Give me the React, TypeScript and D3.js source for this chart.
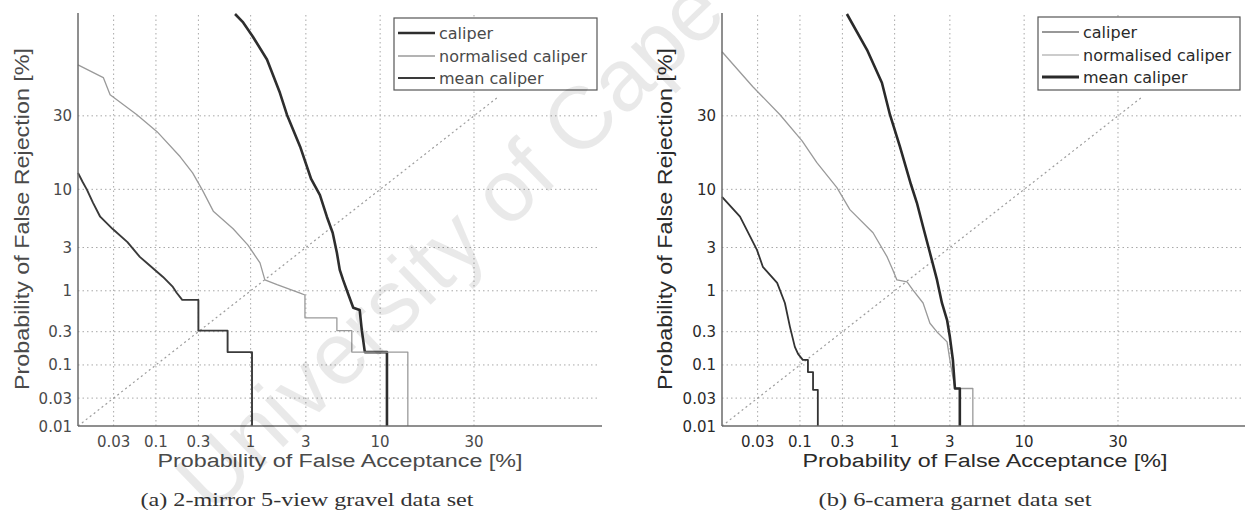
import React, { useEffect, useRef } from "react";
import * as d3 from "d3";

// ---------- data (percent values) ----------
const yTicks = [0.01, 0.03, 0.1, 0.3, 1, 3, 10, 30];
const xTicks = [0.03, 0.1, 0.3, 1, 3, 10, 30];
const gridTicks = [0.03, 0.1, 0.3, 1, 3, 10, 30];
const seriesNames = ["caliper", "normalised caliper", "mean caliper"];

// panel (a)
const caliperA_far = [0.71, 0.85, 1.05, 1.41, 1.83, 2.1, 2.7, 3.3, 3.86, 4.35, 4.8, 5.15, 5.4, 5.7, 6.15, 6.7, 7.4, 7.65, 8.0, 11.0, 11.0];
const caliperA_frr = [70, 66.9, 61.4, 52.2, 38.7, 30.4, 20, 12.0, 9.0, 5.9, 4.2, 2.65, 1.74, 1.34, 0.94, 0.62, 0.58, 0.31, 0.155, 0.155, 0.01];
const normA_far = [0.01, 0.022, 0.027, 0.059, 0.103, 0.19, 0.26, 0.33, 0.43, 0.68, 0.94, 1.22, 1.35, 1.73, 2.7, 2.95, 2.95, 5.15, 5.15, 6.55, 6.55, 14.5, 14.5];
const normA_frr = [50, 44.8, 37.9, 30.4, 24.6, 17.2, 13.3, 9.9, 6.6, 4.57, 3.19, 2.07, 1.34, 1.18, 0.94, 0.89, 0.46, 0.46, 0.31, 0.31, 0.155, 0.155, 0.01];
const meanA_far = [0.01, 0.0115, 0.0133, 0.016, 0.02, 0.029, 0.045, 0.064, 0.078, 0.121, 0.157, 0.174, 0.2, 0.3, 0.3, 0.6, 0.6, 1.03, 1.03];
const meanA_frr = [13.3, 11.5, 9.9, 7.8, 5.9, 4.57, 3.4, 2.4, 2.07, 1.45, 1.11, 0.94, 0.776, 0.776, 0.31, 0.31, 0.155, 0.155, 0.01];

// panel (b)
const caliperB_far = [0.01, 0.0176, 0.0294, 0.035, 0.053, 0.066, 0.076, 0.087, 0.095, 0.108, 0.124, 0.124, 0.142, 0.142, 0.161, 0.161];
const caliperB_frr = [8.7, 5.9, 2.84, 1.88, 1.24, 0.71, 0.349, 0.184, 0.146, 0.119, 0.119, 0.078, 0.078, 0.041, 0.041, 0.01];
const normB_far = [0.01, 0.026, 0.0575, 0.106, 0.157, 0.262, 0.36, 0.62, 0.85, 0.96, 1.05, 1.3, 1.47, 1.8, 2.06, 2.36, 2.85, 3.0, 3.29, 4.5, 4.5];
const normB_frr = [55.4, 41.1, 30.4, 21.7, 15.7, 10.3, 6.8, 4.19, 2.4, 1.74, 1.34, 1.27, 1.02, 0.71, 0.39, 0.298, 0.217, 0.119, 0.043, 0.043, 0.01];
const meanB_far = [0.335, 0.54, 0.757, 0.904, 1.12, 1.41, 1.59, 1.8, 2.06, 2.36, 2.59, 2.85, 3.0, 3.17, 3.29, 3.59, 3.59];
const meanB_frr = [70, 56.2, 42.7, 30.4, 20, 10.9, 7.78, 4.78, 2.65, 1.34, 0.71, 0.43, 0.255, 0.119, 0.043, 0.043, 0.01];

const diagonal = [0.01, 37];
const axisMin = 0.01;
const axisMax = 70;

const captionA = "(a) 2-mirror 5-view gravel data set";
const captionB = "(b) 6-camera garnet data set";
const xTitle = "Probability of False Acceptance [%]";
const yTitle = "Probability of False Rejection [%]";
const watermark = "University of Cape";

// inverse normal CDF (Acklam)
function probit(p: number): number {
  const a = [-3.969683028665376e1, 2.209460984245205e2, -2.759285104469687e2, 1.38357751867269e2, -3.066479806614716e1, 2.506628277459239];
  const b = [-5.447609879822406e1, 1.615858368580409e2, -1.556989798598866e2, 6.680131188771972e1, -1.328068155288572e1];
  const c = [-7.784894002430293e-3, -3.223964580411365e-1, -2.400758277161838, -2.549732539343734, 4.374664141464968, 2.938163982698783];
  const d = [7.784695709041462e-3, 3.224671290700398e-1, 2.445134137142996, 3.754408661907416];
  const plow = 0.02425;
  if (p < plow) {
    const q = Math.sqrt(-2 * Math.log(p));
    return (((((c[0] * q + c[1]) * q + c[2]) * q + c[3]) * q + c[4]) * q + c[5]) / ((((d[0] * q + d[1]) * q + d[2]) * q + d[3]) * q + 1);
  }
  if (p <= 1 - plow) {
    const q = p - 0.5, r = q * q;
    return ((((((a[0] * r + a[1]) * r + a[2]) * r + a[3]) * r + a[4]) * r + a[5]) * q) / (((((b[0] * r + b[1]) * r + b[2]) * r + b[3]) * r + b[4]) * r + 1);
  }
  const q = Math.sqrt(-2 * Math.log(1 - p));
  return -(((((c[0] * q + c[1]) * q + c[2]) * q + c[3]) * q + c[4]) * q + c[5]) / ((((d[0] * q + d[1]) * q + d[2]) * q + d[3]) * q + 1);
}

const zip = (xs: number[], ys: number[]) => xs.map((x, i) => [x, ys[i]] as [number, number]);

export default function App() {
  const ref = useRef<SVGSVGElement>(null);

  useEffect(() => {
    const svg = d3.select(ref.current);
    svg.selectAll("*").remove();

    const panels = [
      {
        x0: 78, x1: 604, y0: 426, y1: 14,
        textColor: "#4a4a4a",
        series: [
          { data: zip(caliperA_far, caliperA_frr), color: "#2e2e2e", width: 2.6 },
          { data: zip(normA_far, normA_frr), color: "#9a9a9a", width: 1.3 },
          { data: zip(meanA_far, meanA_frr), color: "#3a3a3a", width: 1.9 },
        ],
        legend: { x: 394, y: 18, w: 203, h: 72, widths: [2.6, 1.3, 1.9], colors: ["#2e2e2e", "#9a9a9a", "#3a3a3a"] },
        xTitleX: 340, yTitleX: 22, caption: captionA, captionX: 307, captionLen: 333,
      },
      {
        x0: 722, x1: 1248, y0: 426, y1: 14,
        textColor: "#2a2a2a",
        series: [
          { data: zip(caliperB_far, caliperB_frr), color: "#333333", width: 1.8 },
          { data: zip(normB_far, normB_frr), color: "#9a9a9a", width: 1.3 },
          { data: zip(meanB_far, meanB_frr), color: "#2a2a2a", width: 2.6 },
        ],
        legend: { x: 1038, y: 17, w: 202, h: 73, widths: [1.2, 1.2, 3.2], colors: ["#333333", "#9a9a9a", "#2a2a2a"] },
        xTitleX: 985, yTitleX: 665, caption: captionB, captionX: 955, captionLen: 273,
      },
    ];

    panels.forEach((P) => {
      const g = svg.append("g");
      const zx = d3.scaleLinear().domain([probit(axisMin / 100), probit(axisMax / 100)]).range([P.x0, P.x1]);
      const zy = d3.scaleLinear().domain([probit(axisMin / 100), probit(axisMax / 100)]).range([P.y0, P.y1]);
      const X = (v: number) => zx(probit(v / 100));
      const Y = (v: number) => zy(probit(v / 100));

      // grid
      gridTicks.forEach((t) => {
        g.append("line").attr("x1", X(t)).attr("x2", X(t)).attr("y1", P.y0).attr("y2", P.y1)
          .attr("stroke", "#a8a8a8").attr("stroke-width", 1).attr("stroke-dasharray", "1.5,3");
        g.append("line").attr("y1", Y(t)).attr("y2", Y(t)).attr("x1", P.x0).attr("x2", P.x1 - 4)
          .attr("stroke", "#a8a8a8").attr("stroke-width", 1).attr("stroke-dasharray", "1.5,3");
      });

      // diagonal
      g.append("line").attr("x1", X(diagonal[0])).attr("y1", Y(diagonal[0]))
        .attr("x2", X(diagonal[1])).attr("y2", Y(diagonal[1]))
        .attr("stroke", "#9c9c9c").attr("stroke-width", 1.2).attr("stroke-dasharray", "2,3");

      // curves
      const line = d3.line<[number, number]>().x((d) => X(d[0])).y((d) => Y(d[1]));
      P.series.forEach((s) => {
        g.append("path").attr("d", line(s.data)).attr("fill", "none")
          .attr("stroke", s.color).attr("stroke-width", s.width).attr("stroke-linejoin", "round");
      });

      // axes
      g.append("line").attr("x1", P.x0).attr("x2", P.x0).attr("y1", P.y0).attr("y2", P.y1 - 1)
        .attr("stroke", "#6a6a6a").attr("stroke-width", 1.5);
      g.append("line").attr("x1", P.x0).attr("x2", P.x1 - 2).attr("y1", P.y0).attr("y2", P.y0)
        .attr("stroke", "#6a6a6a").attr("stroke-width", 1.5);

      // tick labels
      yTicks.forEach((t) => {
        g.append("text").attr("x", P.x0 - 6).attr("y", Y(t) + 5.5).attr("text-anchor", "end")
          .attr("font-family", "DejaVu Sans").attr("font-size", 15).attr("fill", P.textColor).text(String(t));
      });
      xTicks.forEach((t) => {
        g.append("text").attr("x", X(t)).attr("y", P.y0 + 21).attr("text-anchor", "middle")
          .attr("font-family", "DejaVu Sans").attr("font-size", 15).attr("fill", P.textColor).text(String(t));
      });

      // axis titles
      g.append("text").attr("x", P.xTitleX).attr("y", 467).attr("text-anchor", "middle")
        .attr("font-family", "Liberation Sans, Arial, sans-serif").attr("font-size", 18)
        .attr("textLength", 365).attr("lengthAdjust", "spacingAndGlyphs")
        .attr("fill", P.textColor).text(xTitle);
      g.append("text").attr("transform", `translate(${P.yTitleX + 7},219) rotate(-90)`)
        .attr("text-anchor", "middle")
        .attr("font-family", "Liberation Sans, Arial, sans-serif").attr("font-size", 20)
        .attr("textLength", 342).attr("lengthAdjust", "spacingAndGlyphs")
        .attr("fill", P.textColor).text(yTitle);

      // caption
      g.append("text").attr("x", P.captionX).attr("y", 506).attr("text-anchor", "middle")
        .attr("font-family", "Liberation Serif, Times New Roman, serif").attr("font-size", 18)
        .attr("textLength", P.captionLen).attr("lengthAdjust", "spacingAndGlyphs")
        .attr("fill", "#333").text(P.caption);

      // legend
      const L = P.legend;
      g.append("rect").attr("x", L.x).attr("y", L.y).attr("width", L.w).attr("height", L.h)
        .attr("fill", "#fff").attr("stroke", "#555").attr("stroke-width", 1.2);
      const rows = [L.y + 15, L.y + 38, L.y + 60];
      seriesNames.forEach((name, i) => {
        g.append("line").attr("x1", L.x + 4).attr("x2", L.x + 41).attr("y1", rows[i]).attr("y2", rows[i])
          .attr("stroke", L.colors[i]).attr("stroke-width", L.widths[i]);
        g.append("text").attr("x", L.x + 45).attr("y", rows[i] + 6)
          .attr("font-family", "DejaVu Sans").attr("font-size", 16).attr("fill", P.textColor).text(name);
      });
    });

    // watermark
    svg.append("text").attr("transform", "translate(212,516) rotate(-44)")
      .attr("font-family", "Liberation Sans, Arial, sans-serif").attr("font-size", 88)
      .attr("fill", "#000").attr("fill-opacity", 0.085).text(watermark);
  }, []);

  return (
    <svg ref={ref} width={1245} height={520} style={{ position: "absolute", left: 0, top: 0, background: "#fff" }} />
  );
}
